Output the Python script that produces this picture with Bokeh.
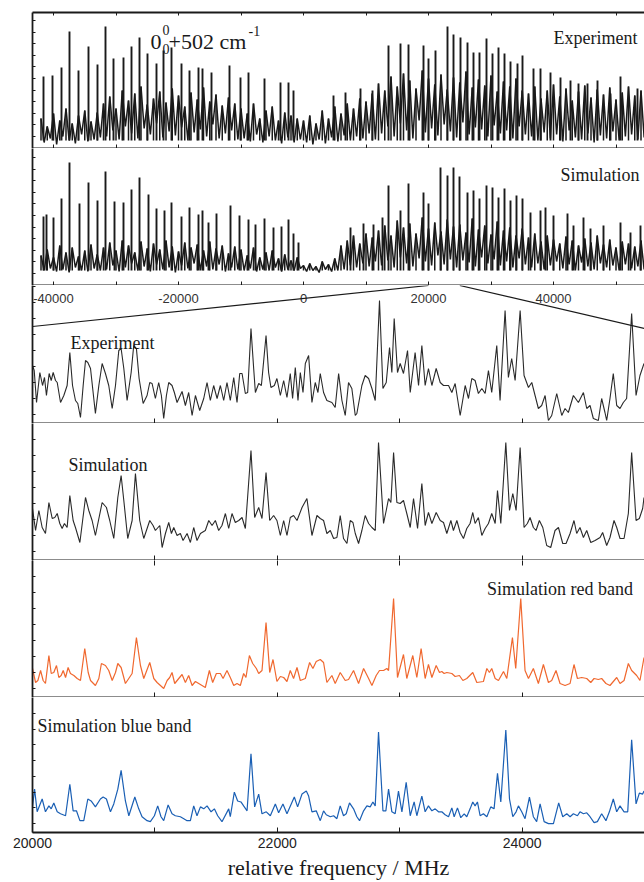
import numpy as np
from bokeh.plotting import figure
from bokeh.layouts import column
from bokeh.models import Range1d, FixedTicker, LinearAxis, Label
from bokeh.core.properties import value
from bokeh.embed import file_html
from bokeh.resources import INLINE

# ---------------- overview panels (relative frequency, MHz) ----------------
OV_START, OV_END = -43360, 54560
OV_TICKS = [-40000, -20000, 0, 20000, 40000]
OV_TICK_LABELS = ["-40000", "-20000", "0", "20000", "40000"]
OV_ALL_TICKS = [-40000, -30000, -20000, -10000, 0, 10000, 20000, 30000, 40000, 50000]
GRASS_START, GRASS_STEP = -42000, 500

# dense rotational "grass" (alternating local maxima / minima), intensity a.u.
exp_overview = [
    30, 6, 22, 10, 35, 4, 28, 12, 40, 8, 25, 5, 33, 14, 38, 7, 27, 9, 36, 11,
    45, 12, 52, 18, 40, 9, 58, 22, 48, 15, 55, 10, 62, 20, 44, 14, 50, 25, 57, 11, 46, 17,
    60, 13, 53, 21, 42, 8, 56, 16, 49, 19, 61, 12, 47, 24, 54, 10, 43, 15, 51, 18, 45, 9,
    40, 10, 35, 7, 45, 14, 30, 6, 38, 12, 42, 8, 28, 5, 36, 11, 33, 6, 30, 9,
    28, 6, 33, 4, 25, 9, 38, 5, 30, 11, 42, 7, 35, 13, 45, 8, 40, 12, 50, 10, 47, 15, 55, 9,
    65, 15, 58, 22, 72, 12, 62, 25, 75, 18, 68, 10, 60, 28, 78, 16, 70, 20, 64, 13, 74, 24, 59, 17,
    71, 11, 66, 26, 77, 14, 61, 21, 69, 19, 63, 12, 73, 23, 57, 15, 67, 18, 62, 10, 70, 22, 58, 14,
    55, 12, 62, 8, 50, 16, 58, 10, 64, 14, 52, 7, 60, 18, 48, 11, 57, 9, 63, 15, 51, 6,
    59, 13, 54, 10, 61, 17, 49, 8, 56, 12, 62, 14, 53, 9, 58, 11,
]
sim_overview = [
    30, 15, 36, 17, 28, 14, 40, 16, 33, 13, 38, 18, 29, 15, 35, 14, 41, 17, 31, 15,
    38, 16, 43, 20, 35, 14, 45, 18, 40, 22, 33, 15, 44, 19, 37, 14, 42, 21, 36, 16, 45, 18,
    39, 13, 34, 20, 43, 17, 38, 22, 41, 15, 35, 19, 44, 16, 37, 21, 40, 14, 32, 18, 39, 16,
    36, 15, 30, 17, 38, 14, 28, 16, 33, 15, 35, 18, 27, 14, 31, 16, 25, 15, 28, 17,
    20, 14, 22, 15, 19, 13, 24, 16, 21, 14, 27, 15, 40, 16, 45, 20, 50, 18, 42, 22, 52, 19, 48, 24,
    55, 20, 60, 25, 50, 18, 65, 28, 58, 22, 62, 19, 52, 27, 68, 24, 57, 20, 63, 30, 54, 21, 66, 26,
    59, 18, 61, 25, 53, 23, 67, 19, 56, 28, 60, 22, 51, 26, 64, 20, 55, 24, 58, 18, 50, 27, 57, 21,
    48, 18, 52, 22, 44, 16, 50, 20, 46, 24, 42, 17, 49, 21, 45, 15, 40, 23, 47, 19, 43, 16,
    50, 22, 41, 18, 46, 20, 38, 15, 44, 21, 42, 17, 39, 19, 45, 16,
]
EXP_BASE, SIM_BASE = 8, 15
exp_lines_x = [-41600, -40160, -38720, -37440, -36000, -34400, -32960, -31680, -30400, -28800,
               -27520, -26240, -24960, -23520, -22400, -21120, -19520, -18240, -16800, -16160,
               -14720, -11840, -10080, -8800, -6240, -3680, -2400, -1600, 4800, 6720,
               9120, 11040, 13600, 15520, 16800, 19200, 20000, 21120, 23040, 24000,
               25120, 26240, 27200, 28160, 29280, 30240, 31200, 32160, 33120, 34240,
               35040, 36800, 37920, 39520, 41120, 42720, 44000, 45440, 47040, 49120,
               50720, 53440]
exp_lines_h = [72, 73, 81, 117, 78, 102, 84, 122, 90, 91,
               102, 111, 95, 85, 98, 101, 85, 78, 81, 80,
               76, 83, 71, 76, 70, 66, 66, 58, 53, 56,
               60, 58, 103, 105, 104, 103, 90, 98, 122, 114,
               111, 106, 96, 96, 110, 95, 101, 95, 87, 85,
               93, 80, 80, 76, 71, 68, 65, 65, 68, 55,
               72, 60]
sim_lines_x = [-41600, -41120, -40000, -38720, -37440, -35840, -34400, -32960, -31680, -30240,
               -28800, -27520, -26240, -24800, -23520, -22240, -21120, -19520, -18240, -16800,
               -16160, -15200, -13920, -11680, -10240, -8800, -7680, -6240, -4800, -3520,
               -2400, -1600, -800, 7520, 9600, 11200, 12640, 13600, 15520, 16800,
               19200, 20000, 21920, 23040, 24000, 24960, 26240, 27200, 28160, 29280,
               30240, 31200, 32160, 33120, 34080, 35040, 36320, 37920, 38720, 40000,
               42240, 43200, 44800, 45920, 48000, 50720, 52320, 53920]
sim_lines_h = [69, 71, 68, 87, 123, 82, 103, 85, 114, 84,
               83, 96, 108, 91, 77, 75, 83, 69, 78, 71,
               75, 63, 72, 80, 70, 66, 61, 67, 58, 59,
               66, 52, 43, 58, 62, 61, 68, 100, 75, 102,
               93, 82, 118, 110, 118, 109, 93, 95, 87, 100,
               98, 88, 97, 85, 90, 87, 73, 75, 78, 70,
               72, 60, 68, 57, 60, 63, 53, 60]

# ---------------- zoomed panels 20000 - 25000 MHz ----------------
ZOOM_START, ZOOM_END = 20000, 25000
ZOOM_TICKS = [20000, 22000, 24000]
ZOOM_MINOR = [21000, 23000, 25000]
ZOOM_ALL_TICKS = [20000, 21000, 22000, 23000, 24000, 25000]

exp_zoom_x = [20000, 20014, 20033, 20060, 20082, 20098, 20114, 20136, 20153, 20169, 20188, 20202, 20229, 20256, 20283,
              20305, 20327, 20351, 20370, 20392, 20414, 20433, 20452, 20474, 20514, 20542, 20569, 20596, 20623, 20651,
              20678, 20705, 20724, 20746, 20773, 20806, 20827, 20849, 20871, 20904, 20936, 20958, 20977, 21004, 21031,
              21053, 21072, 21094, 21113, 21140, 21159, 21181, 21222, 21249, 21276, 21304, 21331, 21366, 21399, 21426,
              21453, 21480, 21508, 21535, 21562, 21589, 21616, 21644, 21671, 21693, 21712, 21739, 21758, 21785, 21807,
              21821, 21848, 21870, 21908, 21929, 21948, 21976, 21997, 22025, 22052, 22079, 22106, 22125, 22147, 22169,
              22188, 22210, 22229, 22256, 22283, 22310, 22332,
              22351, 22378, 22405, 22446, 22473, 22501, 22528, 22555, 22582, 22609, 22637, 22650, 22691, 22718, 22746,
              22773, 22800, 22835, 22863, 22890, 22917, 22936, 22955, 22982, 23004, 23031, 23064, 23086, 23126, 23154,
              23181, 23208, 23235, 23263, 23298, 23331, 23358, 23399, 23426, 23453, 23494, 23535, 23562, 23589, 23616,
              23643, 23671, 23698, 23725, 23752, 23793, 23820, 23861, 23888, 23915, 23943, 23984, 24016, 24052, 24079,
              24106, 24133, 24160, 24188, 24215, 24242, 24283, 24324, 24351, 24378, 24419, 24460, 24501, 24528, 24555,
              24582, 24623, 24650, 24677, 24691, 24718, 24745, 24773, 24800, 24827, 24854, 24895, 24931, 24963, 24996]
exp_zoom_y = [58, 53, 21, 51, 38, 46, 28, 50, 43, 51, 43, 41, 21, 28, 38,
              71, 38, 23, 20, 6, 38, 63, 61, 55, 10, 38, 60, 50, 38, 15,
              38, 73, 75, 55, 23, 51, 78, 75, 45, 20, 28, 41, 40, 25, 41,
              28, 5, 28, 41, 38, 31, 21, 32, 18, 31, 8, 28, 13, 25, 41,
              23, 38, 25, 38, 23, 41, 23, 46, 21, 50, 50, 30, 31, 95, 55,
              31, 40, 38, 88, 51, 36, 38, 45, 28, 43, 26, 50, 25, 56, 23,
              51, 31, 60, 68, 21, 41, 31,
              50, 31, 23, 21, 16, 50, 23, 8, 41, 35, 8, 10, 38, 48, 45,
              35, 23, 123, 35, 41, 76, 51, 105, 51, 60, 50, 73, 31, 71, 38,
              78, 38, 55, 38, 55, 41, 38, 38, 31, 40, 8, 38, 25, 45, 43,
              30, 35, 30, 53, 31, 78, 23, 113, 46, 65, 43, 113, 48, 36, 41,
              28, 15, 18, 28, 3, 8, 30, 8, 15, 11, 28, 21, 31, 15, 18,
              5, 3, 25, 11, 3, 25, 50, 18, 15, 21, 25, 110, 28, 48, 60]

sim_zoom_x = [20000, 20025, 20052, 20079, 20106, 20134, 20161, 20182, 20202, 20223, 20242, 20261, 20283, 20305, 20332,
              20351, 20387, 20433, 20460, 20487, 20514, 20569, 20604, 20631, 20664, 20697, 20724, 20746, 20778, 20814,
              20841, 20876, 20909, 20958, 20985, 21004, 21040, 21059, 21086, 21113, 21135, 21154, 21181, 21208, 21230,
              21263, 21290, 21317, 21344, 21372, 21412, 21440, 21467, 21494, 21521, 21548, 21576, 21603, 21630, 21657,
              21685, 21712, 21739, 21785, 21815, 21848, 21875, 21908, 21938, 21970, 21997, 22025, 22052, 22079, 22106,
              22133, 22161, 22202, 22242, 22283, 22324,
              22351, 22378, 22405, 22433, 22460, 22487, 22514, 22541, 22569, 22596, 22618, 22637, 22664, 22691, 22718,
              22746, 22773, 22800, 22827, 22868, 22890, 22909, 22928, 22950, 22977, 23004, 23031, 23058, 23086, 23113,
              23146, 23181, 23208, 23235, 23263, 23298, 23331, 23358, 23385, 23418, 23439, 23467, 23494, 23521, 23548,
              23575, 23597, 23616, 23643, 23671, 23698, 23725, 23752, 23780, 23799, 23826, 23867, 23897, 23924, 23951,
              23984, 24016, 24043, 24065, 24092, 24114, 24141, 24169, 24201, 24234, 24269, 24297, 24332, 24359, 24392,
              24424, 24446, 24473, 24501, 24528, 24561, 24596, 24637, 24658, 24691, 24718, 24751, 24773, 24800, 24833,
              24868, 24895, 24931, 24958, 24985, 24996]
sim_zoom_y = [52, 30, 50, 33, 27, 58, 42, 43, 47, 37, 32, 37, 33, 65, 40,
              33, 18, 63, 50, 40, 25, 58, 53, 40, 22, 63, 85, 60, 22, 40,
              87, 40, 22, 40, 35, 30, 35, 13, 27, 38, 27, 33, 25, 27, 20,
              27, 18, 33, 20, 27, 30, 40, 35, 40, 30, 35, 47, 32, 47, 38,
              40, 43, 32, 110, 43, 53, 42, 88, 40, 45, 40, 25, 40, 25, 43,
              45, 40, 53, 62, 25, 45,
              42, 40, 27, 30, 22, 23, 45, 22, 17, 40, 38, 27, 17, 30, 45,
              37, 33, 30, 118, 37, 50, 62, 58, 108, 58, 57, 60, 47, 33, 62,
              32, 77, 35, 48, 37, 48, 40, 38, 27, 40, 30, 40, 28, 22, 32,
              37, 48, 37, 43, 25, 32, 37, 47, 37, 70, 37, 118, 50, 67, 50,
              113, 33, 37, 43, 33, 30, 40, 33, 15, 13, 30, 33, 17, 17, 27,
              40, 27, 33, 23, 30, 18, 20, 23, 28, 15, 23, 40, 33, 22, 22,
              47, 108, 40, 42, 52, 63]

red_zoom_x = [20000, 20025, 20044, 20066, 20087, 20106, 20134, 20153, 20174, 20196, 20215, 20234, 20251, 20270, 20291,
              20310, 20338, 20365, 20392, 20427, 20455, 20474, 20514, 20542, 20563, 20596, 20623, 20651, 20678, 20697,
              20724, 20759, 20814, 20849, 20882, 20909, 20958, 20991, 21018, 21072, 21100, 21121, 21140, 21162, 21195,
              21222, 21249, 21276, 21304, 21331, 21358, 21385, 21412, 21445, 21472, 21502, 21535, 21557, 21589, 21616,
              21644, 21671, 21698, 21725, 21744, 21772, 21799, 21829, 21848, 21875, 21908, 21938, 21965, 21997, 22025,
              22052, 22079, 22106, 22133, 22161, 22188, 22229, 22264, 22291, 22318,
              22351, 22378, 22405, 22446, 22473, 22514, 22555, 22582, 22623, 22664, 22705, 22746, 22773, 22808, 22835,
              22868, 22895, 22909, 22950, 22982, 23031, 23058, 23107, 23140, 23175, 23208, 23235, 23263, 23298, 23325,
              23344, 23363, 23385, 23426, 23453, 23488, 23516, 23548, 23597, 23630, 23684, 23712, 23733, 23752, 23780,
              23807, 23848, 23875, 23921, 23948, 23989, 24024, 24052, 24092, 24133, 24174, 24215, 24242, 24277, 24310,
              24351, 24392, 24424, 24452, 24487, 24528, 24561, 24588, 24623, 24650, 24685, 24718, 24773, 24800, 24833,
              24868, 24895, 24936, 24963, 24996]
red_zoom_y = [29, 15, 17, 27, 17, 14, 42, 24, 25, 32, 20, 22, 27, 20, 30,
              24, 22, 19, 17, 49, 25, 17, 12, 19, 34, 32, 27, 17, 25, 34,
              30, 14, 24, 60, 32, 19, 35, 19, 15, 9, 17, 20, 25, 14, 19,
              23, 15, 22, 12, 16, 14, 12, 10, 27, 15, 24, 24, 19, 27, 20,
              12, 14, 12, 24, 20, 42, 34, 29, 24, 27, 75, 25, 38, 16, 21,
              20, 16, 27, 19, 30, 17, 19, 35, 29, 36,
              38, 35, 15, 22, 14, 25, 17, 18, 27, 14, 29, 19, 12, 22, 27,
              27, 29, 27, 99, 20, 43, 19, 42, 20, 49, 19, 33, 20, 32, 25,
              26, 24, 25, 24, 21, 22, 17, 19, 25, 15, 16, 29, 25, 29, 19,
              17, 26, 19, 60, 29, 99, 27, 19, 29, 14, 33, 15, 17, 27, 14,
              12, 14, 33, 19, 20, 19, 15, 19, 18, 19, 14, 12, 20, 14, 17,
              34, 27, 22, 17, 40]

blue_zoom_x = [20000, 20017, 20038, 20079, 20106, 20134, 20153, 20174, 20202, 20229, 20270, 20305, 20332, 20359, 20387,
               20419, 20452, 20479, 20514, 20555, 20577, 20604, 20637, 20664, 20697, 20724, 20759, 20787, 20836, 20868,
               20895, 20936, 20963, 20996, 21023, 21050, 21072, 21108, 21140, 21167, 21208, 21236, 21263, 21290, 21317,
               21344, 21372, 21399, 21426, 21459, 21486, 21513, 21548, 21603, 21616, 21649, 21676, 21703, 21725, 21753,
               21785, 21815, 21848, 21875, 21910, 21943, 21984, 22011, 22046, 22079, 22139, 22166, 22202, 22237, 22256,
               22283, 22318,
               22351, 22378, 22400, 22433, 22460, 22487, 22514, 22541, 22563, 22590, 22623, 22650, 22672, 22705, 22732,
               22759, 22781, 22800, 22827, 22863, 22887, 22909, 22936, 22963, 22990, 23018, 23053, 23086, 23118, 23140,
               23181, 23208, 23235, 23263, 23290, 23317, 23344, 23371, 23399, 23426, 23445, 23472, 23499, 23527, 23548,
               23575, 23597, 23616, 23635, 23657, 23684, 23712, 23744, 23771, 23799, 23826, 23867, 23897, 23924, 23951,
               23970, 23997, 24024, 24060, 24092, 24119, 24147, 24180, 24215, 24256, 24299, 24332, 24365, 24392, 24419,
               24452, 24473, 24501, 24528, 24555, 24588, 24615, 24650, 24685, 24713, 24745, 24773, 24800, 24833, 24863,
               24895, 24931, 24958, 24985, 24996]
blue_zoom_y = [26, 44, 21, 34, 21, 27, 24, 30, 21, 19, 17, 49, 22, 22, 12,
               12, 34, 32, 26, 34, 36, 34, 21, 29, 44, 63, 32, 17, 36, 24,
               16, 12, 11, 17, 27, 16, 12, 28, 19, 17, 16, 14, 12, 12, 27,
               17, 26, 24, 27, 21, 24, 17, 11, 24, 16, 41, 32, 31, 27, 22,
               80, 26, 39, 19, 21, 17, 29, 20, 29, 19, 36, 26, 39, 42, 37,
               21, 22,
               12, 22, 18, 16, 17, 14, 27, 17, 19, 30, 24, 16, 12, 22, 27,
               26, 31, 27, 102, 22, 22, 44, 21, 19, 42, 21, 51, 17, 31, 17,
               37, 21, 27, 22, 24, 21, 21, 18, 16, 25, 16, 25, 15, 19, 16,
               24, 31, 27, 31, 17, 19, 16, 26, 24, 60, 31, 104, 34, 16, 21,
               27, 21, 14, 36, 16, 11, 29, 11, 9, 9, 30, 16, 19, 16, 19,
               17, 21, 19, 20, 16, 10, 11, 19, 12, 21, 34, 21, 27, 21, 21,
               94, 29, 40, 39, 42]

# ---------------- styling ----------------
W = 644
SERIF = "Liberation Serif"
SANS = "Liberation Sans"
INK = "#1a1a1a"
RED = "#f0682f"
BLUE = "#1a5fb4"


def base_fig(height, xr, yr, top=0, bottom=0):
    p = figure(width=W, height=height, x_range=xr, y_range=yr,
               output_backend="svg", toolbar_location=None,
               min_border_left=32, min_border_right=0,
               min_border_top=top, min_border_bottom=bottom,
               outline_line_color=None, background_fill_color="white",
               border_fill_color="white")
    p.grid.visible = False
    return p


def style_axis(ax, ticks, tick_len, minor=None, labels=False, line=True):
    ax.ticker = FixedTicker(ticks=ticks, minor_ticks=minor or [])
    ax.major_tick_in = tick_len
    ax.major_tick_out = 0
    ax.minor_tick_in = tick_len
    ax.minor_tick_out = 0
    ax.major_tick_line_color = INK
    ax.minor_tick_line_color = INK if minor else None
    ax.axis_line_color = INK if line else None
    ax.axis_line_width = 1.8
    if not labels:
        # tick marks only: labels are neither sized nor painted
        ax.major_label_text_font_size = "0px"
        ax.major_label_text_color = None
        ax.major_label_standoff = 0


def hidden_axis(p, place, ticks, tick_len, line=True):
    ax = LinearAxis()
    style_axis(ax, ticks, tick_len, line=line)
    p.add_layout(ax, place)
    return ax


def y_ticks_top(h):
    return list(np.arange(12, h, 11.6))


def y_ticks_zoom(h):
    return list(np.arange(9, h, 16))


def serif_label(p, x, y, text, size="18px", align="left"):
    p.add_layout(Label(x=x, y=y, text=text, text_font=SERIF, text_font_size=size,
                       text_color=INK, text_align=align, text_baseline="alphabetic"))


def forest(p, values, base, lines_x, lines_h):
    """unresolved line forest: zig-zag trace, a stick at every local maximum, strong lines"""
    gx = GRASS_START + GRASS_STEP * np.arange(len(values))
    tops_x = gx[::2]
    tops_y = values[::2]
    p.segment(x0=tops_x, y0=[base] * len(tops_x), x1=tops_x, y1=tops_y,
              line_color=INK, line_width=1.5)
    p.line(gx, values, line_color=INK, line_width=1.5)
    p.segment(x0=lines_x, y0=[base] * len(lines_x), x1=lines_x, y1=lines_h,
              line_color=INK, line_width=1.9)


# panel 1 : experiment overview
p1 = base_fig(148, Range1d(OV_START, OV_END), Range1d(0, 136), top=12)
forest(p1, exp_overview, EXP_BASE, exp_lines_x, exp_lines_h)
style_axis(p1.xaxis[0], OV_ALL_TICKS, 4)
style_axis(p1.yaxis[0], y_ticks_top(136), 3)
hidden_axis(p1, "above", OV_ALL_TICKS, 3)
serif_label(p1, 53440, 111, "Experiment", align="right")
serif_label(p1, -24480, 107, "0", size="22px")
serif_label(p1, -22560, 119, "0", size="14px")
serif_label(p1, -22560, 100, "0", size="14px")
serif_label(p1, -21600, 107, "+502 cm", size="22px")
serif_label(p1, -8800, 118, "-1", size="14px")

# panel 2 : simulation overview
p2 = base_fig(137, Range1d(OV_START, OV_END), Range1d(0, 137))
forest(p2, sim_overview, SIM_BASE, sim_lines_x, sim_lines_h)
style_axis(p2.xaxis[0], OV_ALL_TICKS, 4)
style_axis(p2.yaxis[0], y_ticks_top(137), 3)
serif_label(p2, 53760, 111, "Simulation", align="right")

# panel 3 : experiment zoom (+ overview tick labels and zoom connectors)
p3 = base_fig(138, Range1d(ZOOM_START, ZOOM_END), Range1d(0, 138))
p3.extra_x_ranges = {"ov": Range1d(OV_START, OV_END)}
p3.line(exp_zoom_x, exp_zoom_y, line_color="#2a2a2a", line_width=1.1)
p3.text(x=OV_TICKS, y=[125] * len(OV_TICKS), text=OV_TICK_LABELS, x_range_name="ov",
        text_font=value(SANS), text_font_size="13px", text_color="#333333",
        text_align="center", text_baseline="middle")
p3.segment(x0=[ZOOM_START, ZOOM_END], y0=[138, 138], x1=[OV_START, OV_END], y1=[97, 95],
           x_range_name="ov", line_color=INK, line_width=1.2)
style_axis(p3.xaxis[0], ZOOM_ALL_TICKS, 5)
style_axis(p3.yaxis[0], y_ticks_zoom(138), 3)
serif_label(p3, 20310, 81, "Experiment")

# panel 4 : simulation zoom
p4 = base_fig(137, Range1d(ZOOM_START, ZOOM_END), Range1d(0, 137))
p4.line(sim_zoom_x, sim_zoom_y, line_color="#2a2a2a", line_width=1.1)
style_axis(p4.xaxis[0], ZOOM_ALL_TICKS, 5)
style_axis(p4.yaxis[0], y_ticks_zoom(137), 3)
serif_label(p4, 20294, 96, "Simulation")

# panel 5 : red band
p5 = base_fig(137, Range1d(ZOOM_START, ZOOM_END), Range1d(0, 137))
p5.line(red_zoom_x, red_zoom_y, line_color=RED, line_width=1.2)
style_axis(p5.xaxis[0], ZOOM_ALL_TICKS, 5)
style_axis(p5.yaxis[0], y_ticks_zoom(137), 3)
hidden_axis(p5, "above", ZOOM_ALL_TICKS, 5, line=False)
serif_label(p5, 24906, 109, "Simulation red band", align="right")

# panel 6 : blue band with frequency axis
p6 = base_fig(185, Range1d(ZOOM_START, ZOOM_END), Range1d(0, 137), bottom=48)
p6.line(blue_zoom_x, blue_zoom_y, line_color=BLUE, line_width=1.2)
ax6 = p6.xaxis[0]
style_axis(ax6, ZOOM_TICKS, 5, minor=ZOOM_MINOR, labels=True)
ax6.major_label_text_font = SANS
ax6.major_label_text_font_size = "14px"
ax6.major_label_text_color = "#222222"
ax6.major_label_standoff = 5
ax6.axis_label = "relative frequency / MHz"
ax6.axis_label_text_font = SERIF
ax6.axis_label_text_font_size = "22px"
ax6.axis_label_text_font_style = "normal"
ax6.axis_label_text_color = INK
ax6.axis_label_standoff = 4
style_axis(p6.yaxis[0], y_ticks_zoom(137), 3)
serif_label(p6, 20041, 108, "Simulation blue band")

layout = column(p1, p2, p3, p4, p5, p6, spacing=0)
open("out.html", "w").write(file_html(layout, INLINE))
